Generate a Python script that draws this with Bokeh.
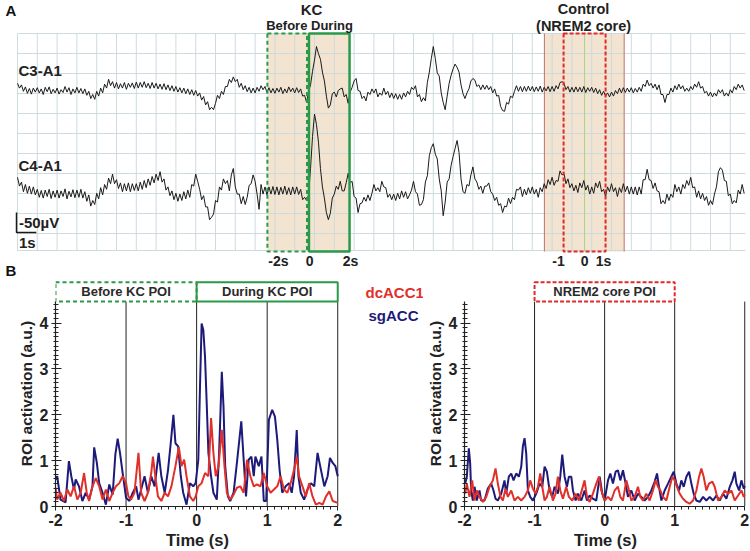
import numpy as np
from bokeh.plotting import figure
from bokeh.layouts import column, row
from bokeh.models import Range1d, FixedTicker
from bokeh.embed import file_html
from bokeh.resources import INLINE
from bokeh.core.properties import value

FONT = "Liberation Sans"
INK = "#1a1a1a"
GRID = "#c9d7db"
TAN = "#f2e4d0"
GREEN = "#2a9a48"
RED = "#e0302a"
NAVY = "#1e1a7a"
DASHRED = "#e02a2a"
TXT = "#222222"

# ---------------- Panel A data (EEG deflection in uV, 0.1 s sampling) ----------------
eeg_dt = 0.1
c3_uv = [18, 6, 14, -2, 9, -7, 5, -9, 6, -4,
         7, -6, 4, -10, 8, -3, 9, -8, 3, -6,
         6, -9, 2, -5, 10, -4, 7, -10, 4, -6,
         8, -6, 5, -8, 4, -12, -2, -20, -10, -22,
         -2, -14, 6, -6, 16, 6, 28, 12, 22, 6,
         20, 4, 17, 6, 20, 3, 18, 8, 19, 5,
         21, 6, 20, 8, 22, 7, 18, 5, 20, 6,
         18, 4, 16, 3, 17, 2, 14, 0, 12, -2,
         10, -4, 7, -6, 6, -8, 4, -10, 2, -12,
         0, -14, -6, -24, -15, -36, -28, -48, -42, -48,
         -32, -12, -20, -2, -10, 10, 10, 28, 20, 34,
         22, 28, 8, 18, 2, 12, -3, 8, -6, 6,
         -6, 8, -2, 12, 2, 10, -5, 7, -6, 5,
         -7, 6, -4, 8, -8, 4, -6, 9, -3, 6,
         -6, 7, -5, 4, -14, -12, -30, -2, 14, 48,
         76, 110, 92, 78, 46, 24, -14, -44, -36, -8,
         -4, -16, 0, 4, 6, -16, -10, -32, -4, 8,
         24, 30, 0, -2, -20, -14, -26, -4, -10, 4,
         -6, 4, -16, -6, -12, 6, -10, -2, -18, -6,
         -20, -8, -22, -10, -22, -6, -16, -2, -10, 8,
         2, 12, -16, -10, -28, -18, -26, 20, 46, 80,
         110, 80, 44, 36, -6, -30, -48, -14, 18, 38,
         54, 66, 58, 46, 14, -8, -20, -6, 4, 24,
         30, 26, 10, 14, 2, 14, 3, 13, 2, 10,
         -6, 4, -14, -12, -40, -50, -52, -30, -34, -14,
         -18, -2, 12, -2, 10, -3, 10, -2, 11, -1,
         10, -3, 9, -2, 11, -4, 8, -1, 10, -3,
         10, -2, 12, 4, 20, 22, 18, 2, 10, -4,
         8, -4, 9, -3, 8, -4, 10, -5, 7, -2,
         8, -5, 6, -8, 2, -12, -2, -14, -6, -16,
         -4, -14, 0, -8, 6, -6, 7, -5, 6, -4,
         7, -6, 5, -4, 8, -2, 16, 10, 26, 12,
         18, 6, 16, 2, 14, -10, -10, -30, -10, -10,
         6, -4, 12, 2, 16, 4, 12, -2, 6, -2,
         10, 2, 16, 8, 22, 6, 10, -6, -2, -14,
         -4, -16, -6, -14, 2, -6, 2, -14, -6, -14,
         2, -6, 10, 2, 16, 6, 14, 0]
c4_uv = [38, 16, 26, 2, 20, -2, 16, -4, 14, -6,
         8, -12, 5, -14, 6, -10, 8, -15, 4, -12,
         6, -14, 4, -10, 9, -16, 3, -11, 7, -13,
         6, -12, 8, -14, 2, -22, -6, -34, -20, -30,
         -2, -16, 12, -6, 20, 8, 36, 22, 46, 22,
         32, 10, 24, 2, 22, 4, 24, 2, 22, 5,
         22, 4, 26, 8, 30, 12, 34, 18, 40, 24,
         46, 30, 52, 26, 34, 6, 14, -8, 4, -18,
         -2, -22, -4, -20, 2, -16, 6, -12, 20, 16,
         46, 28, 8, -18, -8, -36, -36, -68, -62, -54,
         -20, -24, 14, 6, 34, 22, 30, 4, 44, 60,
         14, -4, -4, -28, -10, -30, -12, 18, 22, 44,
         28, -4, -42, 20, -4, 14, -6, 14, -4, 15,
         -5, 14, -6, 13, -4, 16, -5, 12, -6, 14,
         -4, 14, -5, 8, -18, -12, -20, -6, 60, 140,
         196, 170, 126, 60, 14, -14, -50, -68, -52, -14,
         -4, 16, 8, 28, 4, 4, 24, 48, 24, 28,
         -10, -14, -50, -28, -26, -12, -22, -6, -20, -2,
         20, 4, 12, 2, 28, 14, 12, -12, -4, -18,
         -4, -20, -2, -16, 4, -12, 2, -16, -6, 6,
         28, 2, -4, -32, -30, -18, 26, 42, 92, 112,
         122, 96, 84, 34, 4, -58, -24, 26, 34, 68,
         90, 110, 130, 100, 34, 2, -2, 20, 16, 44,
         64, 34, 26, 8, 16, -2, 16, 16, 24, 2,
         -4, -20, -12, -32, -28, -50, -34, -36, -14, -28,
         -12, -18, 8, 6, 14, -10, 8, -6, 12, -2,
         14, -4, 8, -12, 12, 2, 22, 10, 32, 20,
         38, 18, 30, 28, 54, 44, 48, 22, 34, 12,
         22, 4, 18, 0, 24, 12, 30, 6, 18, -4,
         14, -2, 24, 12, 28, 2, 8, -10, 14, 2,
         22, 2, 12, -10, 12, 0, 22, 2, 16, -4,
         14, -4, 14, -6, 14, -4, 32, 32, 58, 32,
         30, 10, 24, 4, 2, -28, -20, -28, -4, -20,
         -4, -12, 20, 2, 14, -4, 20, 10, 30, 18,
         38, 12, 14, -12, 4, -16, -2, -20, -10, -32,
         -20, -30, -4, 14, 52, 62, 56, 30, 28, -8,
         -4, -28, -20, -26, 6, -4, 20, -2]
channels = ["C3-A1", "C4-A1"]
record_s = 36.77
kc_onset_s = 14.72
control_s = 28.64
scale_uv = 50
scale_s = 1

# ---------------- Panel B data ----------------
series_names = ["dcACC1", "sgACC"]
kc_sg_t = [-2.0, -1.976, -1.929, -1.857, -1.81, -1.776, -1.738, -1.714, -1.667, -1.619,
           -1.571, -1.524, -1.476, -1.452, -1.414, -1.381, -1.333, -1.286, -1.238, -1.19,
           -1.152, -1.119, -1.086, -1.048, -1.0, -0.952, -0.905, -0.857, -0.824, -0.786,
           -0.738, -0.69, -0.643, -0.595, -0.538, -0.5, -0.452, -0.405, -0.367, -0.329,
           -0.3, -0.262, -0.224, -0.19, -0.143, -0.095, -0.048, -0.014, 0.024, 0.048,
           0.071, 0.095, 0.119, 0.143, 0.167, 0.205, 0.238, 0.286, 0.319, 0.357,
           0.381, 0.405, 0.443, 0.476, 0.524, 0.571, 0.633, 0.667, 0.7, 0.738,
           0.776, 0.81, 0.833, 0.881, 0.919, 0.952, 0.986, 1.024, 1.071, 1.11,
           1.143, 1.176, 1.214, 1.262, 1.31, 1.348, 1.381, 1.419, 1.443, 1.476,
           1.524, 1.571, 1.619, 1.667, 1.714, 1.762, 1.81, 1.857, 1.89, 1.929,
           1.967, 2.0]
kc_sg_v = [0.59, 0.66, 0.15, 0.09, 0.99, 0.66, 0.37, 0.59, 0.44, 0.12,
           0.30, 0.15, 0.44, 1.29, 0.95, 0.51, 0.30, 0.04, 0.48, 0.26,
           1.13, 1.48, 1.17, 0.73, 0.19, 0.12, 0.30, 0.44, 0.15, 0.37,
           0.66, 0.30, 0.66, 0.44, 1.17, 0.66, 0.30, 0.80, 1.38, 2.00,
           1.38, 1.31, 0.66, 0.30, 0.04, 0.51, 0.44, 0.51, 1.02, 2.62,
           3.99, 3.85, 3.27, 2.25, 1.17, 0.66, 0.30, 0.15, 1.17, 2.94,
           2.18, 0.88, 0.22, 0.12, 0.30, 0.95, 1.86, 1.02, 0.22, 1.02,
           1.09, 0.66, 1.09, 0.88, 1.09, 0.12, 0.12, 1.89, 2.11, 1.96,
           1.46, 0.80, 0.30, 0.44, 0.51, 0.30, 0.66, 1.67, 0.66, 0.30,
           0.15, 0.37, 0.51, 0.44, 1.17, 0.80, 0.44, 0.66, 1.06, 0.95,
           0.88, 0.66]
kc_dc_t = [-2.0, -1.976, -1.929, -1.881, -1.833, -1.786, -1.738, -1.69, -1.643, -1.595,
           -1.557, -1.524, -1.476, -1.429, -1.381, -1.333, -1.286, -1.238, -1.19, -1.143,
           -1.095, -1.048, -1.0, -0.967, -0.929, -0.881, -0.824, -0.786, -0.738, -0.69,
           -0.643, -0.619, -0.586, -0.548, -0.5, -0.452, -0.405, -0.357, -0.3, -0.252,
           -0.214, -0.176, -0.143, -0.095, -0.048, -0.014, 0.024, 0.071, 0.119, 0.167,
           0.205, 0.238, 0.271, 0.31, 0.357, 0.395, 0.429, 0.476, 0.524, 0.571,
           0.619, 0.667, 0.714, 0.762, 0.81, 0.857, 0.905, 0.952, 1.0, 1.048,
           1.095, 1.143, 1.19, 1.238, 1.286, 1.333, 1.381, 1.419, 1.452, 1.5,
           1.548, 1.595, 1.643, 1.69, 1.738, 1.786, 1.833, 1.881, 1.929, 2.0]
kc_dc_v = [0.41, 0.15, 0.30, 0.12, 0.37, 0.22, 0.44, 0.15, 0.30, 0.73,
           0.30, 0.12, 0.44, 0.62, 0.44, 0.15, 0.37, 0.12, 0.30, 0.44,
           0.51, 0.66, 0.51, 0.22, 0.15, 0.30, 1.17, 0.30, 0.12, 0.30,
           0.73, 1.09, 0.66, 0.22, 0.12, 0.30, 0.22, 0.44, 0.88, 1.30,
           0.88, 1.02, 0.66, 0.22, 0.12, 0.22, 0.44, 0.51, 0.73, 0.66,
           1.93, 1.17, 0.66, 0.88, 1.67, 0.88, 0.30, 0.15, 0.26, 0.41,
           0.44, 0.30, 1.02, 0.66, 0.44, 0.48, 0.44, 0.73, 0.44, 0.30,
           0.37, 0.44, 0.66, 0.37, 0.30, 0.51, 0.80, 1.09, 0.66, 0.44,
           0.22, 0.51, 0.22, 0.04, 0.08, 0.04, 0.22, 0.33, 0.12, 0.08]
nr_sg_t = [-1.99, -1.967, -1.938, -1.919, -1.905, -1.881, -1.857, -1.824, -1.786, -1.762,
           -1.714, -1.667, -1.619, -1.586, -1.557, -1.524, -1.476, -1.429, -1.405, -1.367,
           -1.333, -1.3, -1.262, -1.224, -1.19, -1.167, -1.143, -1.119, -1.095, -1.062,
           -1.024, -0.976, -0.929, -0.89, -0.857, -0.824, -0.786, -0.748, -0.714, -0.667,
           -0.633, -0.605, -0.571, -0.538, -0.51, -0.476, -0.452, -0.414, -0.381, -0.333,
           -0.286, -0.252, -0.214, -0.167, -0.119, -0.071, -0.033, 0.0, 0.048, 0.081,
           0.119, 0.157, 0.19, 0.224, 0.262, 0.3, 0.333, 0.381, 0.429, 0.476,
           0.524, 0.571, 0.619, 0.667, 0.714, 0.748, 0.776, 0.81, 0.857, 0.905,
           0.952, 0.986, 1.024, 1.062, 1.095, 1.129, 1.167, 1.205, 1.238, 1.271,
           1.31, 1.357, 1.405, 1.452, 1.5, 1.548, 1.595, 1.643, 1.69, 1.738,
           1.786, 1.824, 1.857, 1.881, 1.919, 1.952, 1.986, 2.0]
nr_sg_v = [0.50, 0.65, 1.27, 0.94, 0.35, 0.13, 0.43, 0.13, 0.35, 0.13,
           0.13, 0.39, 0.50, 0.35, 0.17, 0.13, 0.28, 0.57, 0.28, 0.65,
           0.72, 0.57, 0.72, 0.65, 0.87, 1.31, 1.49, 1.16, 0.35, 0.21,
           0.13, 0.28, 0.50, 0.43, 0.87, 0.76, 0.35, 0.21, 0.43, 0.28,
           0.65, 1.13, 0.65, 0.43, 0.65, 0.65, 0.35, 0.13, 0.28, 0.13,
           0.35, 0.13, 0.24, 0.17, 0.13, 0.65, 0.28, 0.13, 0.57, 0.72,
           0.50, 0.76, 0.79, 0.57, 0.79, 0.50, 0.21, 0.35, 0.13, 0.28,
           0.21, 0.13, 0.21, 0.35, 0.54, 0.72, 0.43, 0.13, 0.35, 0.50,
           0.65, 0.76, 0.50, 0.35, 0.57, 0.43, 0.65, 0.76, 0.50, 0.28,
           0.13, 0.10, 0.21, 0.13, 0.21, 0.13, 0.24, 0.13, 0.28, 0.17,
           0.43, 0.57, 0.76, 0.50, 0.35, 0.57, 0.39, 0.45]
nr_dc_t = [-1.99, -1.967, -1.929, -1.89, -1.857, -1.824, -1.786, -1.738, -1.69, -1.643,
           -1.595, -1.557, -1.524, -1.486, -1.452, -1.414, -1.381, -1.333, -1.286, -1.238,
           -1.19, -1.143, -1.095, -1.062, -1.024, -0.986, -0.952, -0.919, -0.89, -0.857,
           -0.824, -0.786, -0.738, -0.7, -0.667, -0.633, -0.595, -0.548, -0.51, -0.462,
           -0.414, -0.367, -0.319, -0.286, -0.252, -0.214, -0.167, -0.119, -0.081, -0.048,
           0.0, 0.048, 0.095, 0.143, 0.19, 0.224, 0.262, 0.31, 0.348, 0.381,
           0.429, 0.476, 0.51, 0.548, 0.595, 0.643, 0.69, 0.729, 0.762, 0.795,
           0.833, 0.881, 0.929, 0.967, 1.0, 1.033, 1.071, 1.119, 1.167, 1.214,
           1.262, 1.31, 1.348, 1.381, 1.414, 1.452, 1.49, 1.538, 1.571, 1.619,
           1.667, 1.714, 1.762, 1.81, 1.857, 1.905, 1.952, 1.986, 2.0]
nr_dc_v = [0.28, 0.50, 0.21, 0.57, 0.13, 0.35, 0.21, 0.10, 0.21, 0.43,
           0.57, 0.83, 0.50, 0.21, 0.13, 0.39, 0.21, 0.35, 0.13, 0.21,
           0.13, 0.21, 0.35, 0.57, 0.39, 0.28, 0.43, 0.72, 0.43, 0.13,
           0.21, 0.43, 0.13, 0.28, 0.65, 0.35, 0.17, 0.43, 0.21, 0.13,
           0.28, 0.13, 0.39, 0.57, 0.21, 0.10, 0.28, 0.50, 0.65, 0.35,
           0.13, 0.21, 0.13, 0.35, 0.43, 0.21, 0.13, 0.57, 0.35, 0.13,
           0.21, 0.43, 0.21, 0.13, 0.28, 0.13, 0.35, 0.57, 0.43, 0.35,
           0.21, 0.13, 0.43, 0.65, 0.57, 0.43, 0.28, 0.17, 0.10, 0.06,
           0.13, 0.35, 0.65, 0.83, 0.65, 0.35, 0.50, 0.54, 0.43, 0.13,
           0.21, 0.35, 0.28, 0.35, 0.13, 0.24, 0.35, 0.21, 0.25]
x_ticks = [-2, -1, 0, 1, 2]
y_ticks = [0, 1, 2, 3, 4]


def txt(p, xs, ys, texts, size, color=TXT, align="center", baseline="middle", style="bold"):
    p.text(x=xs, y=ys, text=texts, text_font=value(FONT), text_font_size=size,
           text_font_style=style, text_color=color, text_align=align, text_baseline=baseline)


# ---------------- Panel A figure ----------------
pa = figure(width=750, height=278, x_range=Range1d(-0.8586, 37.02), y_range=Range1d(-612.5, 82.5),
            x_axis_type=None, y_axis_type=None, min_border=0, toolbar_location=None,
            output_backend="svg", outline_line_color=None)
grid_bottom = -542.5
box_bottom = -545
pa.quad(left=[kc_onset_s - 2.1, control_s - 2.03], right=[kc_onset_s + 2.05, control_s + 2.0],
        top=[0, 0], bottom=[box_bottom, box_bottom], fill_color=TAN, line_color=None)
gx = np.arange(0, int(record_s) + 1)
pa.segment(x0=gx, y0=0, x1=gx, y1=grid_bottom, line_color=GRID, line_width=1, line_alpha=0.9)
gy = np.append(np.arange(0, -501, -50), grid_bottom)
pa.segment(x0=0, y0=gy, x1=record_s, y1=gy, line_color=GRID, line_width=1, line_alpha=0.9)
pa.segment(x0=[control_s - 2.03, control_s + 2.0], y0=0, x1=[control_s - 2.03, control_s + 2.0],
           y1=box_bottom, line_color="#c0706a", line_width=1)
pa.segment(x0=[control_s], y0=0, x1=[control_s], y1=box_bottom, line_color="#a6d48e", line_width=1)

bases = [-142.5, -397.5]
t_eeg = np.arange(len(c3_uv)) * eeg_dt
for base, sig in zip(bases, [c3_uv, c4_uv]):
    pa.line(t_eeg, base + np.array(sig), line_color=INK, line_width=1)

pa.quad(left=[kc_onset_s - 2.1], right=[kc_onset_s - 0.1], top=[0], bottom=[box_bottom],
        fill_color=None, line_color=GREEN, line_width=2, line_dash="4 3")
pa.quad(left=[kc_onset_s], right=[kc_onset_s + 2.05], top=[0], bottom=[box_bottom],
        fill_color=None, line_color=GREEN, line_width=2.5)
pa.quad(left=[control_s - 1.06], right=[control_s + 1.06], top=[0], bottom=[box_bottom],
        fill_color=None, line_color=DASHRED, line_width=2, line_dash="4 2")

sb_x, sb_y = -0.05, -497.5
pa.line(x=[sb_x, sb_x, sb_x + scale_s], y=[sb_y + scale_uv, sb_y, sb_y], line_color=INK, line_width=1.5)
txt(pa, [sb_x + 0.12], [sb_y + scale_uv / 2], ["-%dµV" % scale_uv], "15px", align="left")
txt(pa, [sb_x + 0.12], [sb_y - 25], ["%ds" % scale_s], "15px", align="left")

txt(pa, [-0.606], [58.75], ["A"], "15px", color="#111111", align="left")
txt(pa, [-0.606], [-592.5], ["B"], "15px", color="#111111", align="left")
txt(pa, [0.05, 0.05], [-92.5, -330], channels, "15px", align="left")
txt(pa, [14.85], [60], ["KC"], "15px")
txt(pa, [14.75], [20], ["Before During"], "13px")
txt(pa, [control_s - 0.05], [62], ["Control"], "14.5px")
txt(pa, [control_s - 0.05], [20], ["(NREM2 core)"], "14.5px")
txt(pa, [13.18, 14.75, 16.82], [-567.5] * 3, ["-2s", "0", "2s"], "14px")
txt(pa, [27.32, 28.64, 29.6], [-567.5] * 3, ["-1", "0", "1s"], "14px")


# ---------------- Panel B figures ----------------
BH = 273


def make_b(width, left_border, right_border):
    p = figure(width=width, height=BH, x_range=Range1d(-2, 2.025), y_range=Range1d(0, 4.93),
               min_border_left=left_border, min_border_right=right_border,
               min_border_top=2, min_border_bottom=44,
               toolbar_location=None, output_backend="svg", outline_line_color=None)
    p.grid.visible = False
    p.xaxis.ticker = FixedTicker(ticks=x_ticks, minor_ticks=list(np.round(np.arange(-2, 2.001, 0.1), 2)))
    p.yaxis.ticker = FixedTicker(ticks=y_ticks, minor_ticks=list(np.round(np.arange(0, 4.47, 0.1), 2)))
    p.xaxis.major_label_overrides = {t: str(t) for t in x_ticks}
    p.xaxis.bounds = (-2, 2)
    p.yaxis.bounds = (0, 4.47)
    p.xaxis.axis_label = "Time (s)"
    p.yaxis.axis_label = "ROI activation (a.u.)"
    for ax in p.axis:
        ax.axis_label_text_font = FONT
        ax.axis_label_text_font_style = "bold"
        ax.axis_label_text_color = TXT
        ax.major_label_text_font = FONT
        ax.major_label_text_font_style = "bold"
        ax.major_label_text_font_size = "16px"
        ax.major_label_text_color = TXT
        ax.axis_line_color = TXT
        ax.axis_line_width = 1.2
        ax.major_tick_line_color = TXT
        ax.minor_tick_line_color = TXT
        ax.axis_label_standoff = 2
        ax.major_label_standoff = 3
    p.xaxis.axis_label_text_font_size = "16.5px"
    p.yaxis.axis_label_text_font_size = "15.5px"
    p.xaxis.major_tick_in = 0
    p.xaxis.major_tick_out = 4
    p.xaxis.minor_tick_in = 0
    p.xaxis.minor_tick_out = 3
    p.yaxis.major_tick_in = 6
    p.yaxis.major_tick_out = 4
    p.yaxis.minor_tick_in = 3
    p.yaxis.minor_tick_out = 2
    p.segment(x0=x_ticks[1:], y0=0, x1=x_ticks[1:], y1=4.47, line_color=TXT, line_width=1)
    return p


def poi_box(p, x0, x1, label, color, dash):
    p.quad(left=[x0], right=[x1], bottom=[4.47], top=[4.89], fill_color=None,
           line_color=color, line_width=2, line_dash=dash)
    txt(p, [(x0 + x1) / 2], [4.68], [label], "13px", color="#2a2a2a")


pb1 = make_b(358, 55, 19)
poi_box(pb1, -2, 0, "Before KC POI", GREEN, "4 3")
poi_box(pb1, 0, 2, "During KC POI", GREEN, "solid")
pb1.line(kc_sg_t, kc_sg_v, line_color=NAVY, line_width=2)
pb1.line(kc_dc_t, kc_dc_v, line_color=RED, line_width=2)

# legend column (text only, as in the original)
pleg = figure(width=65, height=BH, x_range=Range1d(0, 65), y_range=Range1d(0, BH),
              x_axis_type=None, y_axis_type=None, min_border=0, toolbar_location=None,
              output_backend="svg", outline_line_color=None)
txt(pleg, [7], [259], [series_names[0]], "15px", color=RED, align="left")
txt(pleg, [10], [231], [series_names[1]], "15px", color=NAVY, align="left")

pb2 = make_b(327, 41, 4)
poi_box(pb2, -1, 1, "NREM2 core POI", DASHRED, "4 2")
pb2.line(nr_sg_t, nr_sg_v, line_color=NAVY, line_width=2)
pb2.line(nr_dc_t, nr_dc_v, line_color=RED, line_width=2)

layout = column(pa, row(pb1, pleg, pb2))
open("out.html", "w").write(file_html(layout, INLINE))
